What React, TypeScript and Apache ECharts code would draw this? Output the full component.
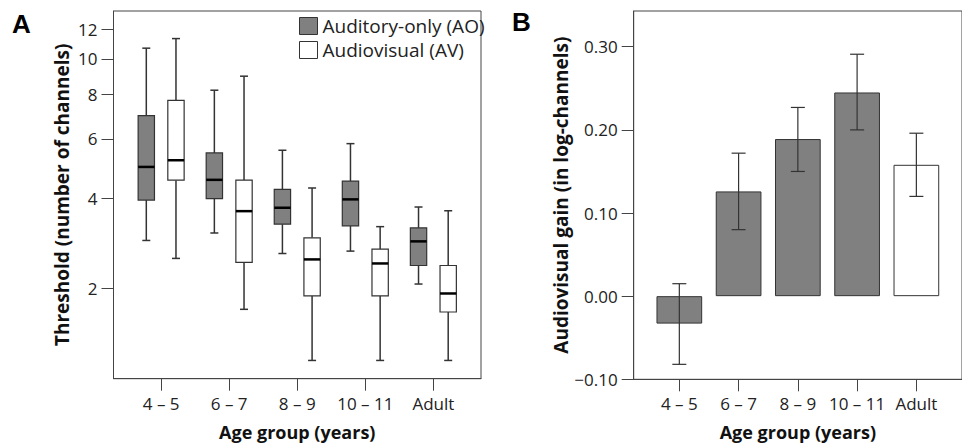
import React, { useEffect, useRef } from "react";
import * as echarts from "echarts";

const categories = ["4 – 5", "6 – 7", "8 – 9", "10 – 11", "Adult"];
// [lower whisker, Q1, median, Q3, upper whisker] in number of channels
const aoBoxes = [
  [2.94, 3.95, 4.97, 6.98, 10.68],
  [3.11, 3.99, 4.55, 5.46, 8.21],
  [2.66, 3.32, 3.74, 4.26, 5.56],
  [2.71, 3.28, 3.97, 4.51, 5.81],
  [2.08, 2.42, 2.92, 3.23, 3.76],
];
const avBoxes = [
  [2.56, 4.54, 5.2, 7.7, 11.33],
  [1.67, 2.48, 3.65, 4.54, 8.97],
  [1.0, 1.88, 2.54, 3.0, 4.3],
  [1.0, 1.88, 2.46, 2.75, 3.26],
  [1.0, 1.63, 1.92, 2.42, 3.66],
];
const thresholdTicks = [2, 4, 6, 8, 10, 12];
const thresholdRange = [0.804, 13.41];

const gainMeans = [-0.033, 0.126, 0.189, 0.245, 0.158];
const gainLow = [-0.082, 0.08, 0.15, 0.2, 0.12];
const gainHigh = [0.015, 0.172, 0.227, 0.291, 0.196];
const gainTicks = [-0.1, 0, 0.1, 0.2, 0.3];
const gainRange = [-0.1, 0.343];

const AO_NAME = "Auditory-only (AO)";
const AV_NAME = "Audiovisual (AV)";

const FONT = "Open Sans";
const DARK = "#333333";
const GREY = "#808080";
const AXIS = "#444444";

const tf = (v: number) => Math.log10(v + 1);

function boxRender(fill: string) {
  return (params: any, api: any) => {
    const x = api.value(0);
    const low = api.coord([x, api.value(1)]);
    const q1 = api.coord([x, api.value(2)]);
    const med = api.coord([x, api.value(3)]);
    const q3 = api.coord([x, api.value(4)]);
    const high = api.coord([x, api.value(5)]);
    const bw = api.size([0.24, 0])[0];
    const cw = 8;
    const cx = q1[0];
    const ls = { stroke: DARK, lineWidth: 1.5 };
    return {
      type: "group",
      children: [
        { type: "line", shape: { x1: cx, y1: low[1], x2: cx, y2: q1[1] }, style: ls },
        { type: "line", shape: { x1: cx, y1: q3[1], x2: cx, y2: high[1] }, style: ls },
        { type: "line", shape: { x1: cx - cw / 2, y1: low[1], x2: cx + cw / 2, y2: low[1] }, style: ls },
        { type: "line", shape: { x1: cx - cw / 2, y1: high[1], x2: cx + cw / 2, y2: high[1] }, style: ls },
        {
          type: "rect",
          shape: { x: cx - bw / 2, y: q3[1], width: bw, height: q1[1] - q3[1] },
          style: { fill, stroke: DARK, lineWidth: 1.2 },
        },
        {
          type: "line",
          shape: { x1: cx - bw / 2, y1: med[1], x2: cx + bw / 2, y2: med[1] },
          style: { stroke: "#000", lineWidth: 2.5 },
        },
      ],
    };
  };
}

function errRender(params: any, api: any) {
  const x = api.value(0);
  const lo = api.coord([x, api.value(1)]);
  const hi = api.coord([x, api.value(2)]);
  const cw = 14;
  const ls = { stroke: DARK, lineWidth: 1.2 };
  return {
    type: "group",
    children: [
      { type: "line", shape: { x1: lo[0], y1: lo[1], x2: hi[0], y2: hi[1] }, style: ls },
      { type: "line", shape: { x1: lo[0] - cw / 2, y1: lo[1], x2: lo[0] + cw / 2, y2: lo[1] }, style: ls },
      { type: "line", shape: { x1: hi[0] - cw / 2, y1: hi[1], x2: hi[0] + cw / 2, y2: hi[1] }, style: ls },
    ],
  };
}

export default function App() {
  const ref = useRef<HTMLDivElement>(null);
  useEffect(() => {
    if (!ref.current) return;
    const chart = echarts.init(ref.current, undefined, { renderer: "svg" });
    const catIdx = categories.map((_, i) => i);
    const labelStyle = { fontFamily: FONT, fontSize: 17, color: "#222" };
    const nameStyle = { fontFamily: FONT, fontSize: 18, fontWeight: "bold" as const, color: "#111" };
    const yNameStyle = { ...nameStyle, fontSize: 19 };
    const xAxisBase = (gridIndex: number, min: number, max: number) => ({
      type: "value",
      gridIndex,
      min,
      max,
      name: "Age group (years)",
      nameLocation: "middle",
      nameGap: 44,
      nameTextStyle: nameStyle,
      axisLine: { show: true, onZero: false, lineStyle: { color: AXIS } },
      axisTick: { show: true, length: 12, lineStyle: { color: AXIS }, customValues: catIdx },
      axisLabel: {
        ...labelStyle,
        margin: 16,
        customValues: catIdx,
        formatter: (v: number) => categories[Math.round(v)] ?? "",
      },
      splitLine: { show: false },
    });
    const option: any = {
      animation: false,
      backgroundColor: "#fff",
      textStyle: { fontFamily: FONT },
      grid: [
        { left: 113.5, top: 11, width: 367.5, height: 367.7, show: true, borderColor: AXIS, borderWidth: 1, backgroundColor: "transparent" },
        { left: 633.7, top: 11, width: 338, height: 368.3, show: true, borderColor: AXIS, borderWidth: 1, backgroundColor: "transparent" },
      ],
      legend: {
        orient: "vertical",
        left: 294,
        top: 11,
        itemWidth: 18,
        itemHeight: 17,
        itemGap: 4,
        selectedMode: false,
        textStyle: { fontFamily: FONT, fontSize: 19, lineHeight: 20, color: "#222" },
        data: [
          { name: AO_NAME, icon: "rect", itemStyle: { color: GREY, borderColor: DARK, borderWidth: 1 } },
          { name: AV_NAME, icon: "rect", itemStyle: { color: "#fff", borderColor: DARK, borderWidth: 1 } },
        ],
      },
      xAxis: [xAxisBase(0, -0.7, 4.7), xAxisBase(1, -0.77, 4.77)],
      yAxis: [
        {
          type: "value",
          gridIndex: 0,
          min: tf(thresholdRange[0]),
          max: tf(thresholdRange[1]),
          name: "Threshold (number of channels)",
          nameLocation: "middle",
          nameGap: 42,
          nameTextStyle: yNameStyle,
          axisLine: { show: true, onZero: false, lineStyle: { color: AXIS } },
          axisTick: { show: true, length: 12, lineStyle: { color: AXIS }, customValues: thresholdTicks.map(tf) },
          axisLabel: {
            ...labelStyle,
            margin: 16,
            customValues: thresholdTicks.map(tf),
            formatter: (v: number) => String(Math.round(Math.pow(10, v) - 1)),
          },
          splitLine: { show: false },
        },
        {
          type: "value",
          gridIndex: 1,
          min: gainRange[0],
          max: gainRange[1],
          name: "Audiovisual gain (in log-channels)",
          nameLocation: "middle",
          nameGap: 62,
          nameTextStyle: yNameStyle,
          axisLine: { show: true, onZero: false, lineStyle: { color: AXIS } },
          axisTick: { show: true, length: 12, lineStyle: { color: AXIS }, customValues: gainTicks },
          axisLabel: {
            ...labelStyle,
            margin: 16,
            customValues: gainTicks,
            formatter: (v: number) => {
              const s = Math.abs(v).toFixed(2);
              return v < -1e-9 ? "−" + s : s;
            },
          },
          splitLine: { show: false },
        },
      ],
      series: [
        {
          name: AO_NAME,
          type: "custom",
          xAxisIndex: 0,
          yAxisIndex: 0,
          renderItem: boxRender(GREY),
          encode: { x: 0, y: [1, 2, 3, 4, 5] },
          itemStyle: { color: GREY, borderColor: DARK },
          data: aoBoxes.map((b, i) => [i - 0.218, ...b.map(tf)]),
          z: 3,
        },
        {
          name: AV_NAME,
          type: "custom",
          xAxisIndex: 0,
          yAxisIndex: 0,
          renderItem: boxRender("#fff"),
          encode: { x: 0, y: [1, 2, 3, 4, 5] },
          itemStyle: { color: "#fff", borderColor: DARK },
          data: avBoxes.map((b, i) => [i + 0.218, ...b.map(tf)]),
          z: 3,
        },
        {
          name: "gain",
          type: "bar",
          xAxisIndex: 1,
          yAxisIndex: 1,
          barWidth: 45.7,
          data: gainMeans.map((v, i) => ({
            value: [i, v],
            itemStyle: {
              color: i === categories.length - 1 ? "#fff" : GREY,
              borderColor: DARK,
              borderWidth: 1,
            },
          })),
          z: 2,
        },
        {
          name: "gainErr",
          type: "custom",
          xAxisIndex: 1,
          yAxisIndex: 1,
          renderItem: errRender,
          encode: { x: 0, y: [1, 2] },
          data: gainMeans.map((_, i) => [i, gainLow[i], gainHigh[i]]),
          z: 4,
        },
      ],
      graphic: [
        {
          type: "text",
          left: 12,
          top: 11,
          style: { text: "A", fontFamily: "Liberation Sans", fontSize: 26, fontWeight: "bold", fill: "#000" },
        },
        {
          type: "text",
          left: 512,
          top: 9,
          style: { text: "B", fontFamily: "Liberation Sans", fontSize: 26, fontWeight: "bold", fill: "#000" },
        },
      ],
    };
    chart.setOption(option);
    return () => chart.dispose();
  }, []);
  return (
    <div
      ref={ref}
      style={{ position: "fixed", left: 0, top: 0, width: 962, height: 448, background: "#fff" }}
    />
  );
}
